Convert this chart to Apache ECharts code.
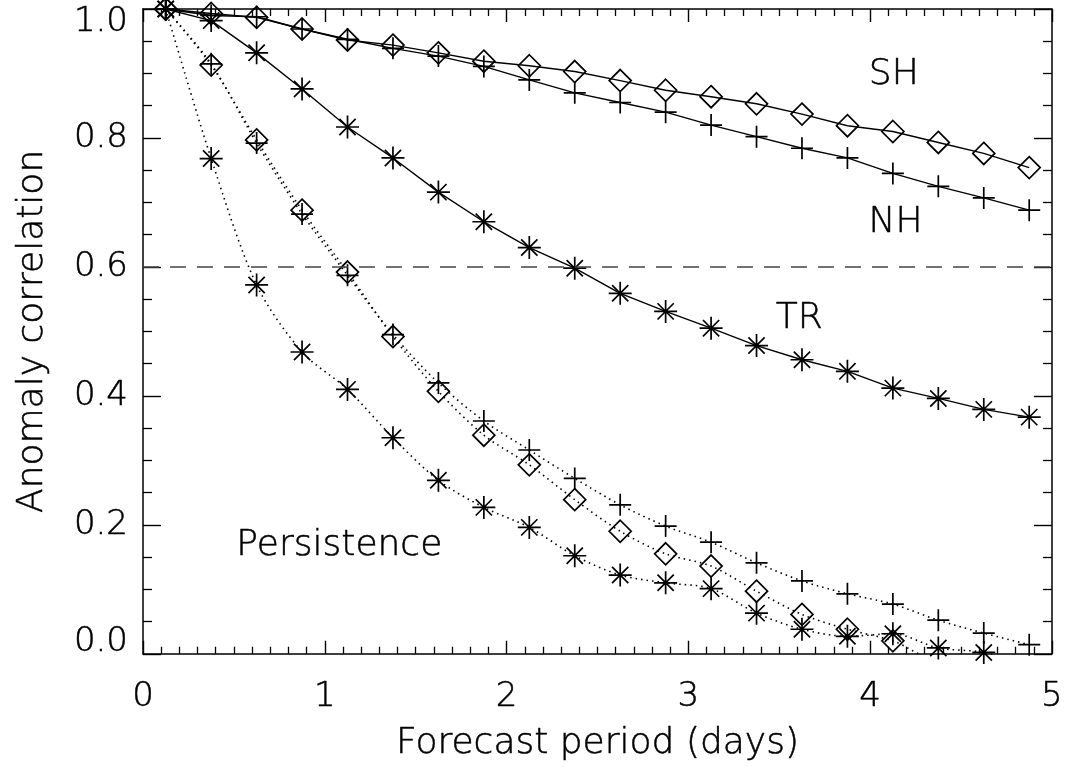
<!DOCTYPE html>
<html>
<head>
<meta charset="utf-8">
<script src="https://cdn.jsdelivr.net/npm/echarts@6/dist/echarts.min.js"></script>
<style>
html,body{margin:0;padding:0;background:#fff;}
#chart{width:1066px;height:767px;}
</style>
</head>
<body>
<div id="chart"></div>
<script>
// Forecast period (days)
const days = [0.125, 0.375, 0.625, 0.875, 1.125, 1.375, 1.625, 1.875, 2.125, 2.375,
              2.625, 2.875, 3.125, 3.375, 3.625, 3.875, 4.125, 4.375, 4.625, 4.875];

// Forecast anomaly correlation
const shForecast = [1.000, 0.993, 0.987, 0.969, 0.952, 0.944, 0.932, 0.919, 0.912, 0.903,
                    0.889, 0.874, 0.864, 0.853, 0.837, 0.819, 0.810, 0.793, 0.776, 0.754];
const nhForecast = [1.000, 0.990, 0.988, 0.969, 0.953, 0.939, 0.927, 0.911, 0.890, 0.870,
                    0.855, 0.840, 0.820, 0.802, 0.784, 0.769, 0.745, 0.725, 0.707, 0.688];
const trForecast = [1.000, 0.982, 0.932, 0.876, 0.817, 0.769, 0.716, 0.670, 0.630, 0.598,
                    0.559, 0.531, 0.505, 0.478, 0.456, 0.438, 0.412, 0.396, 0.379, 0.367];

// Persistence anomaly correlation
const shPersist = [1.000, 0.913, 0.797, 0.688, 0.592, 0.492, 0.407, 0.339, 0.293, 0.239,
                   0.190, 0.155, 0.136, 0.097, 0.061, 0.038, 0.020, -0.010, -0.010, -0.010];
const nhPersist = [1.000, 0.915, 0.792, 0.682, 0.587, 0.495, 0.420, 0.361, 0.316, 0.272,
                   0.231, 0.198, 0.173, 0.141, 0.113, 0.093, 0.077, 0.052, 0.032, 0.014];
const trPersist = [1.000, 0.768, 0.572, 0.468, 0.410, 0.335, 0.269, 0.227, 0.196, 0.152,
                   0.122, 0.110, 0.101, 0.063, 0.038, 0.027, 0.031, 0.009, 0.002, -0.020];

const threshold = 0.6;
const xTicks = [0, 1, 2, 3, 4, 5];
const yTicks = [0.0, 0.2, 0.4, 0.6, 0.8, 1.0];

// Annotation labels and their anchor in data units
const annoText = ['SH', 'NH', 'TR', 'Persistence'];
const annoAt = [[4.13, 0.898], [4.14, 0.668], [3.61, 0.519], [1.08, 0.168]];

const FONT = "'DejaVu Sans', sans-serif";
const INK = '#000';

const SYM_PLUS = 'path://M10 0L10 20M0 10L20 10';
const SYM_AST = 'path://M10 0L10 20M0 10L20 10M2.93 2.93L17.07 17.07M17.07 2.93L2.93 17.07';

function pairs(ys) { return days.map((d, i) => [d, ys[i]]); }

function makeSeries(name, ys, symbol, size, dotted) {
  return {
    name: name,
    type: 'line',
    data: pairs(ys),
    xAxisIndex: 0, yAxisIndex: 0,
    symbol: symbol,
    symbolSize: size,
    showSymbol: true,
    smooth: dotted ? 0.3 : false,
    lineStyle: { color: '#000', width: dotted ? 1.6 : 1.4, type: dotted ? [1.5, 4] : 'solid' },
    itemStyle: { color: 'rgba(0,0,0,0)', borderColor: '#000', borderWidth: 1.7 },
    emphasis: { disabled: true },
    z: 3
  };
}

const chart = echarts.init(document.getElementById('chart'), null, { renderer: 'canvas' });

const baseX = {
  type: 'value', min: xTicks[0], max: xTicks[xTicks.length - 1], interval: 1,
  axisLine: { show: true, onZero: false, lineStyle: { color: '#000', width: 1.5 } },
  axisTick: { show: true, inside: true, length: 13, lineStyle: { color: '#000', width: 1.4 } },
  minorTick: { show: true, splitNumber: 10, length: 7, lineStyle: { color: '#000', width: 1.3 } },
  splitLine: { show: false }
};
const baseY = {
  type: 'value', min: yTicks[0], max: yTicks[yTicks.length - 1], interval: 0.2,
  axisLine: { show: true, onZero: false, lineStyle: { color: '#000', width: 1.5 } },
  axisTick: { show: true, inside: true, length: 18, lineStyle: { color: '#000', width: 1.4 } },
  minorTick: { show: true, splitNumber: 4, length: 9, lineStyle: { color: '#000', width: 1.3 } },
  splitLine: { show: false }
};

const thin = { textBorderColor: '#000', textBorderWidth: 0.5 };
const titleStyle = Object.assign({ color: INK, fontFamily: FONT, fontSize: 36, fontWeight: 200 }, thin);
const tickFont = Object.assign({ color: INK, fontFamily: FONT, fontSize: 34, fontWeight: 200 }, thin);

const series = [
  makeSeries('SH forecast', shForecast, 'diamond', 22, false),
  makeSeries('NH forecast', nhForecast, SYM_PLUS, 22, false),
  makeSeries('TR forecast', trForecast, SYM_AST, 23, false),
  makeSeries('SH persistence', shPersist, 'diamond', 22, true),
  makeSeries('NH persistence', nhPersist, SYM_PLUS, 22, true),
  makeSeries('TR persistence', trPersist, SYM_AST, 23, true)
];

series[0].markLine = {
  silent: true,
  symbol: ['none', 'none'],
  label: { show: false },
  lineStyle: { color: '#444', width: 1.6, type: [16, 11] },
  data: [{ yAxis: threshold }]
};

const yMin = yTicks[0], yMax = yTicks[yTicks.length - 1];

chart.setOption({
  animation: false,
  backgroundColor: '#fff',
  grid: { left: 143, right: 10, top: 9, bottom: 111, containLabel: false },
  xAxis: [
    Object.assign({}, baseX, {
      position: 'bottom',
      name: 'Forecast period (days)', nameLocation: 'middle', nameGap: 72,
      nameTextStyle: titleStyle,
      axisLabel: Object.assign({ show: true, margin: 26, lineHeight: 34, formatter: v => String(v) }, tickFont)
    }),
    Object.assign({}, baseX, { position: 'top', axisLabel: { show: false } })
  ],
  yAxis: [
    Object.assign({}, baseY, {
      position: 'left',
      name: 'Anomaly correlation', nameLocation: 'middle', nameGap: 92, nameRotate: 90,
      nameTextStyle: titleStyle,
      axisLabel: Object.assign({
        show: true, margin: 15,
        formatter: v => {
          const s = v.toFixed(1);
          if (Math.abs(v - yMin) < 1e-9) return '{lo|' + s + '}';
          if (Math.abs(v - yMax) < 1e-9) return '{hi|' + s + '}';
          return s;
        },
        rich: {
          lo: Object.assign({ padding: [0, 0, 24, 0] }, tickFont),
          hi: Object.assign({ padding: [26, 0, 0, 0] }, tickFont)
        }
      }, tickFont)
    }),
    Object.assign({}, baseY, { position: 'right', axisLabel: { show: false } })
  ],
  series: series
});

const graphics = annoText.map((t, i) => {
  const p = chart.convertToPixel({ gridIndex: 0 }, annoAt[i]);
  return {
    type: 'text', x: p[0], y: p[1], silent: true, z: 10,
    style: { text: t, fill: INK, stroke: '#000', lineWidth: 0.5,
             font: "200 36px 'DejaVu Sans', sans-serif",
             textAlign: 'center', textVerticalAlign: 'middle' }
  };
});
chart.setOption({ graphic: graphics });
</script>
</body>
</html>
